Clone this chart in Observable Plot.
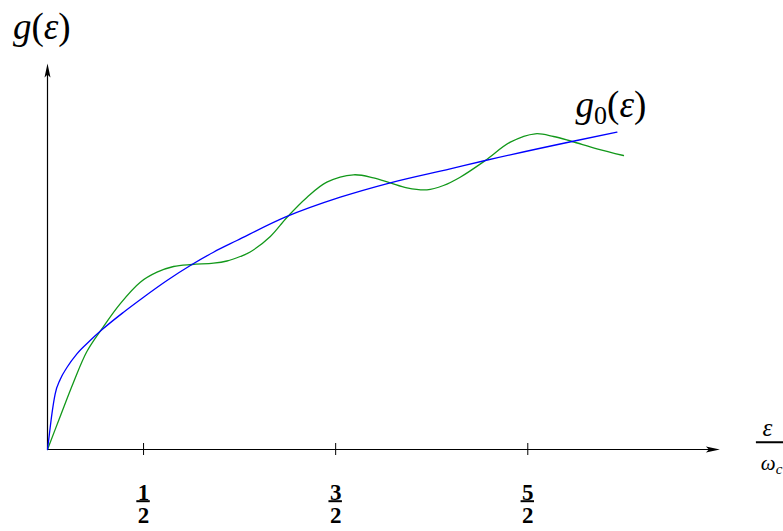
<!DOCTYPE html>
<html><head><meta charset="utf-8">
<script src="https://cdn.jsdelivr.net/npm/d3@7"></script>
<script src="https://cdn.jsdelivr.net/npm/@observablehq/plot@0.6"></script>
<style>html,body{margin:0;padding:0;background:#fff;overflow:hidden}
svg text{font-family:"Liberation Serif","DejaVu Serif",serif !important;}</style>
</head><body><div id="chart"></div>
<script>
// g0(ε) — smooth curve (blue)
const blueX = [0, 0.010, 0.023, 0.040, 0.066, 0.101, 0.153, 0.222, 0.283, 0.396, 0.500, 0.622, 0.752, 0.864, 0.986, 1.237, 1.524, 1.784, 2.096, 2.279, 2.730, 2.964];
const blueY = [0, 0.157, 0.357, 0.557, 0.70, 0.82, 0.957, 1.09, 1.197, 1.373, 1.523, 1.69, 1.85, 1.973, 2.09, 2.323, 2.523, 2.667, 2.807, 2.89, 3.08, 3.173];
// g(ε) — oscillating curve (green)
const greenX = [0, 0.066, 0.135, 0.205, 0.283, 0.378, 0.483, 0.570, 0.656, 0.752, 0.864, 0.934, 1.003, 1.055, 1.160, 1.246, 1.350, 1.454, 1.593, 1.697, 1.784, 1.871, 1.975, 2.061, 2.148, 2.279, 2.409, 2.539, 2.634, 2.730, 2.860, 2.998];
const greenY = [0, 0.33, 0.67, 0.98, 1.207, 1.457, 1.673, 1.773, 1.83, 1.85, 1.863, 1.885, 1.93, 1.975, 2.13, 2.32, 2.52, 2.673, 2.747, 2.717, 2.667, 2.617, 2.597, 2.64, 2.723, 2.89, 3.073, 3.157, 3.13, 3.08, 3.007, 2.94];
// tick labels (fractions)
const tickValues = [0.5, 1.5, 2.5];
const tickNumerators = ["1", "3", "5"];
const tickDenominators = ["2", "2", "2"];
// axis extents
const xMax = 3.5, yMax = 3.86;
// label anchors (data units)
const labelYAxis = {x: -0.18, y: 4.225, text: "g(ε)"};
const labelG0 = {x: 2.749, y: 3.44, text: "g0(ε)"};
const labelXNum = {x: 3.748, y: 0, text: "ε"};
const labelXDen = {x: 3.713, y: 0, text: "ωc"};
const labelXBar = {x1: 3.69, x2: 3.90, y: 0};

const blue = blueX.map((x, i) => ({x, y: blueY[i]}));
const green = greenX.map((x, i) => ({x, y: greenY[i]}));

// stealth-like arrowhead pointing up, tip at origin
const arrowUp = {
  draw(ctx) {
    ctx.moveTo(0, 0);
    ctx.lineTo(3, 14);
    ctx.lineTo(0, 11);
    ctx.lineTo(-3, 14);
    ctx.closePath();
  }
};

const serif = '"Liberation Serif", "DejaVu Serif", serif';

const plot = Plot.plot({
  width: 783,
  height: 531,
  marginLeft: 47,
  marginRight: 63.6,
  marginTop: 63,
  marginBottom: 82,
  x: {domain: [0, xMax], axis: null},
  y: {domain: [0, yMax], axis: null},
  style: {fontFamily: serif, background: "white", color: "black"},
  marks: [
    // axes
    Plot.ruleX([0], {y1: 0, y2: yMax - 0.08, stroke: "black", strokeWidth: 1.2}),
    Plot.ruleY([0], {x1: 0, x2: xMax - 0.04, stroke: "black", strokeWidth: 1.2}),
    Plot.dot([0], {x: 0, y: yMax, symbol: arrowUp, fill: "black", stroke: "none", r: 4}),
    Plot.dot([0], {x: xMax, y: 0, symbol: arrowUp, fill: "black", stroke: "none", r: 4, rotate: 90}),
    // ticks
    Plot.ruleX(tickValues, {x: d => d, y1: -0.06, y2: 0.06, stroke: "black", strokeWidth: 1}),
    // curves
    Plot.line(green, {x: "x", y: "y", stroke: "#12981a", strokeWidth: 1.3, curve: "catmull-rom"}),
    Plot.line(blue, {x: "x", y: "y", stroke: "#0000ff", strokeWidth: 1.3, curve: "monotone-x"}),
    // tick fraction labels
    Plot.text(tickValues, {x: d => d, y: 0, text: tickNumerators, dy: 42.7, fontSize: 23, fontWeight: "bold", fontFamily: serif, fill: "black"}),
    Plot.ruleY(tickValues, {x1: d => d - 0.035, x2: d => d + 0.035, y: 0, dy: 51.7, stroke: "black", strokeWidth: 2}),
    Plot.text(tickValues, {x: d => d, y: 0, text: tickDenominators, dy: 66, fontSize: 23, fontWeight: "bold", fontFamily: serif, fill: "black"}),
    // axis labels
    Plot.text([labelYAxis], {x: "x", y: "y", text: "text", fontSize: 37, fontFamily: serif, textAnchor: "start", fill: "black"}),
    Plot.text([labelG0], {x: "x", y: "y", text: "text", fontSize: 37, fontFamily: serif, textAnchor: "start", fill: "black"}),
    Plot.text([labelXNum], {x: "x", y: "y", text: "text", fontSize: 25, fontFamily: serif, dy: -22, fill: "black"}),
    Plot.ruleY([labelXBar], {x1: "x1", x2: "x2", y: "y", dy: -7.3, stroke: "black", strokeWidth: 2}),
    Plot.text([labelXDen], {x: "x", y: "y", text: "text", fontSize: 21, fontFamily: serif, dy: 14, textAnchor: "start", fill: "black"})
  ]
});

// typeset math-style labels (italic letters, upright digits and parentheses, subscripts)
plot.querySelectorAll("text").forEach(t => {
  const s = t.textContent;
  if (s === "g(ε)") {
    t.innerHTML = '<tspan font-style="italic">g</tspan><tspan>(</tspan><tspan font-style="italic">ε</tspan><tspan>)</tspan>';
  } else if (s === "g0(ε)") {
    t.innerHTML = '<tspan font-style="italic">g</tspan><tspan font-size="26" dy="7">0</tspan><tspan dy="-7">(</tspan><tspan font-style="italic">ε</tspan><tspan>)</tspan>';
  } else if (s === "ε") {
    t.setAttribute("font-style", "italic");
  } else if (s === "ωc") {
    t.innerHTML = '<tspan font-style="italic">ω</tspan><tspan font-style="italic" font-size="15" dy="4">c</tspan>';
  }
});

document.getElementById("chart").appendChild(plot);
</script>
</body></html>
